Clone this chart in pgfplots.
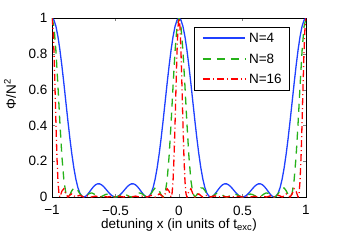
\documentclass[border=0pt]{standalone}
\usepackage{fontspec}
\setmainfont{Liberation Sans}
\usepackage{pgfplots}
\pgfplotsset{compat=1.18}
\usepackage{pgfplotstable}
\definecolor{mblue}{rgb}{0.12,0.25,1}
\definecolor{mgreen}{rgb}{0.15,0.7,0.1}
\definecolor{mred}{rgb}{1,0,0}

% x is given in units of 1/64 (k = 64 x)
\pgfplotstableread[row sep=\\]{
k a b\\
-64 1 1\\ -63 0.98800 0.95040\\ -62 0.95270 0.81318\\ -61 0.89601 0.61945\\ -60 0.82106 0.41053\\ -59 0.73187 0.22590\\ -58 0.63308 0.09271\\ -57 0.52973 0.02016\\ -56 0.42678 0\\ -55 0.32888 0.01252\\ -54 0.24007 0.03516\\ -53 0.16348 0.05046\\ -52 0.10125 0.05062\\ -51 0.05437 0.03759\\ -50 0.02274 0.01941\\ -49 0.00528 0.00508\\ -48 0 0\\ -47 0.00433 0.00417\\ -46 0.01532 0.01307\\ -45 0.02990 0.02067\\ -44 0.04520 0.02260\\ -43 0.05873 0.01813\\ -42 0.06859 0.01004\\ -41 0.07357 0.00280\\ -40 0.07323 0\\ -39 0.06782 0.00258\\ -38 0.05826 0.00853\\ -37 0.04592 0.01417\\ -36 0.03249 0.01624\\ -35 0.01972 0.01363\\ -34 0.00924 0.00789\\ -33 0.00239 0.00230\\ -32 0 0\\
-31 0.00239 0.00230\\ -30 0.00924 0.00789\\ -29 0.01972 0.01363\\ -28 0.03249 0.01624\\ -27 0.04592 0.01417\\ -26 0.05826 0.00853\\ -25 0.06782 0.00258\\ -24 0.07323 0\\ -23 0.07357 0.00280\\ -22 0.06859 0.01004\\ -21 0.05873 0.01813\\ -20 0.04520 0.02260\\ -19 0.02990 0.02067\\ -18 0.01532 0.01307\\ -17 0.00433 0.00417\\ -16 0 0\\ -15 0.00528 0.00508\\ -14 0.02274 0.01941\\ -13 0.05437 0.03759\\ -12 0.10125 0.05062\\ -11 0.16348 0.05046\\ -10 0.24007 0.03516\\ -9 0.32888 0.01252\\ -8 0.42678 0\\ -7 0.52973 0.02016\\ -6 0.63308 0.09271\\ -5 0.73187 0.22590\\ -4 0.82106 0.41053\\ -3 0.89601 0.61945\\ -2 0.95270 0.81318\\ -1 0.98800 0.95040\\ 0 1 1\\
1 0.98800 0.95040\\ 2 0.95270 0.81318\\ 3 0.89601 0.61945\\ 4 0.82106 0.41053\\ 5 0.73187 0.22590\\ 6 0.63308 0.09271\\ 7 0.52973 0.02016\\ 8 0.42678 0\\ 9 0.32888 0.01252\\ 10 0.24007 0.03516\\ 11 0.16348 0.05046\\ 12 0.10125 0.05062\\ 13 0.05437 0.03759\\ 14 0.02274 0.01941\\ 15 0.00528 0.00508\\ 16 0 0\\ 17 0.00433 0.00417\\ 18 0.01532 0.01307\\ 19 0.02990 0.02067\\ 20 0.04520 0.02260\\ 21 0.05873 0.01813\\ 22 0.06859 0.01004\\ 23 0.07357 0.00280\\ 24 0.07323 0\\ 25 0.06782 0.00258\\ 26 0.05826 0.00853\\ 27 0.04592 0.01417\\ 28 0.03249 0.01624\\ 29 0.01972 0.01363\\ 30 0.00924 0.00789\\ 31 0.00239 0.00230\\ 32 0 0\\
33 0.00239 0.00230\\ 34 0.00924 0.00789\\ 35 0.01972 0.01363\\ 36 0.03249 0.01624\\ 37 0.04592 0.01417\\ 38 0.05826 0.00853\\ 39 0.06782 0.00258\\ 40 0.07323 0\\ 41 0.07357 0.00280\\ 42 0.06859 0.01004\\ 43 0.05873 0.01813\\ 44 0.04520 0.02260\\ 45 0.02990 0.02067\\ 46 0.01532 0.01307\\ 47 0.00433 0.00417\\ 48 0 0\\ 49 0.00528 0.00508\\ 50 0.02274 0.01941\\ 51 0.05437 0.03759\\ 52 0.10125 0.05062\\ 53 0.16348 0.05046\\ 54 0.24007 0.03516\\ 55 0.32888 0.01252\\ 56 0.42678 0\\ 57 0.52973 0.02016\\ 58 0.63308 0.09271\\ 59 0.73187 0.22590\\ 60 0.82106 0.41053\\ 61 0.89601 0.61945\\ 62 0.95270 0.81318\\ 63 0.98800 0.95040\\ 64 1 1\\
}\tabAB

\pgfplotstableread[row sep=\\]{
k c\\
-64 1\\ -63.5 0.94983\\ -63 0.81122\\ -62.5 0.61610\\ -62 0.40659\\ -61.5 0.22252\\ -61 0.09072\\ -60.5 0.01957\\ -60 0\\ -59 0.03308\\ -58 0.04636\\ -57 0.01721\\ -56 0\\ -55 0.01068\\ -54 0.01758\\ -53 0.00739\\ -52 0\\ -51 0.00550\\ -50 0.00971\\ -49 0.00433\\ -48 0\\ -47 0.00356\\ -46 0.00654\\ -45 0.00303\\ -44 0\\ -43 0.00265\\ -42 0.00502\\ -41 0.00239\\ -40 0\\ -39 0.00220\\ -38 0.00427\\ -37 0.00208\\ -36 0\\ -35 0.00200\\ -34 0.00395\\ -33 0.00196\\ -32 0\\
-31 0.00196\\ -30 0.00395\\ -29 0.00200\\ -28 0\\ -27 0.00208\\ -26 0.00427\\ -25 0.00220\\ -24 0\\ -23 0.00239\\ -22 0.00502\\ -21 0.00265\\ -20 0\\ -19 0.00303\\ -18 0.00654\\ -17 0.00356\\ -16 0\\ -15 0.00433\\ -14 0.00971\\ -13 0.00550\\ -12 0\\ -11 0.00739\\ -10 0.01758\\ -9 0.01068\\ -8 0\\ -7 0.01721\\ -6 0.04636\\ -5 0.03308\\ -4 0\\ -3.5 0.01957\\ -3 0.09072\\ -2.5 0.22252\\ -2 0.40659\\ -1.5 0.61610\\ -1 0.81122\\ -0.5 0.94983\\ 0 1\\
0.5 0.94983\\ 1 0.81122\\ 1.5 0.61610\\ 2 0.40659\\ 2.5 0.22252\\ 3 0.09072\\ 3.5 0.01957\\ 4 0\\ 5 0.03308\\ 6 0.04636\\ 7 0.01721\\ 8 0\\ 9 0.01068\\ 10 0.01758\\ 11 0.00739\\ 12 0\\ 13 0.00550\\ 14 0.00971\\ 15 0.00433\\ 16 0\\ 17 0.00356\\ 18 0.00654\\ 19 0.00303\\ 20 0\\ 21 0.00265\\ 22 0.00502\\ 23 0.00239\\ 24 0\\ 25 0.00220\\ 26 0.00427\\ 27 0.00208\\ 28 0\\ 29 0.00200\\ 30 0.00395\\ 31 0.00196\\ 32 0\\
33 0.00196\\ 34 0.00395\\ 35 0.00200\\ 36 0\\ 37 0.00208\\ 38 0.00427\\ 39 0.00220\\ 40 0\\ 41 0.00239\\ 42 0.00502\\ 43 0.00265\\ 44 0\\ 45 0.00303\\ 46 0.00654\\ 47 0.00356\\ 48 0\\ 49 0.00433\\ 50 0.00971\\ 51 0.00550\\ 52 0\\ 53 0.00739\\ 54 0.01758\\ 55 0.01068\\ 56 0\\ 57 0.01721\\ 58 0.04636\\ 59 0.03308\\ 60 0\\ 60.5 0.01957\\ 61 0.09072\\ 61.5 0.22252\\ 62 0.40659\\ 62.5 0.61610\\ 63 0.81122\\ 63.5 0.94983\\ 64 1\\
}\tabC

\begin{document}
\fontsize{13.5}{16}\selectfont
\begin{tikzpicture}
\begin{axis}[
  at={(0pt,0pt)}, anchor=south west,
  scale only axis, width=254pt, height=179pt,
  xmin=-64, xmax=64, ymin=0, ymax=1,
  xtick={-64,-32,0,32,64},
  xticklabels={−1,−0.5,0,0.5,1},
  xticklabel style={yshift=-4pt},
  ytick={0,0.2,0.4,0.6,0.8,1},
  yticklabels={0,0.2,0.4,0.6,0.8,1},
  tick align=inside, major tick length=3pt,
  xlabel={detuning x (in units of t\textsubscript{exc})},
  xlabel style={at={(axis description cs:0.5,0)}, anchor=base, yshift=-31pt},
  ylabel={Φ/N\textsuperscript{2}},
  ylabel style={at={(axis description cs:-0.165,0.575)}, anchor=center},
  clip=true,
]
\addplot[color=mblue, line width=1.3pt] table[x=k, y=a] {\tabAB};
\addplot[color=mgreen, line width=1.3pt, dash pattern=on 8pt off 6pt] table[x=k, y=b] {\tabAB};
\addplot[color=mred, line width=1.3pt, dash pattern=on 7pt off 3pt on 1pt off 3pt] table[x=k, y=c] {\tabC};
% legend
\draw[black, line width=0.6pt, fill=white] (rel axis cs:0.559,0.950) rectangle (rel axis cs:0.933,0.598);
\draw[mblue, line width=1.3pt] (rel axis cs:0.594,0.888) -- (rel axis cs:0.760,0.888);
\draw[mgreen, line width=1.3pt, dash pattern=on 8pt off 6pt] (rel axis cs:0.594,0.771) -- (rel axis cs:0.760,0.771);
\draw[mred, line width=1.3pt, dash pattern=on 7pt off 3pt on 1pt off 3pt] (rel axis cs:0.594,0.659) -- (rel axis cs:0.760,0.659);
\node[anchor=west, inner sep=0pt, black] at (rel axis cs:0.775,0.888) {N=4};
\node[anchor=west, inner sep=0pt, black] at (rel axis cs:0.775,0.771) {N=8};
\node[anchor=west, inner sep=0pt, black] at (rel axis cs:0.775,0.659) {N=16};
\end{axis}
\pgfresetboundingbox
\path[use as bounding box] (-52pt,-45pt) rectangle (286pt,197pt);
\end{tikzpicture}
\end{document}
